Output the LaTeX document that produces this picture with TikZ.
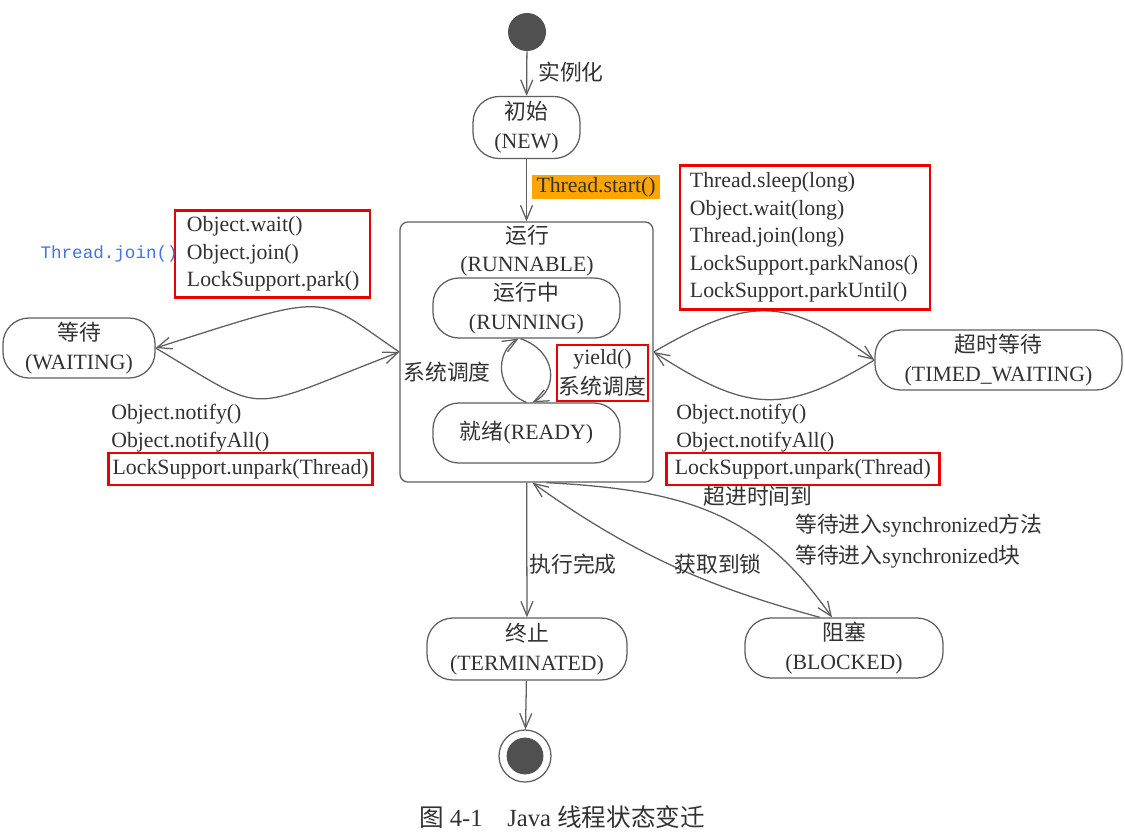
\documentclass[tikz,border=0pt]{standalone}
\usepackage{fontspec}
\setmainfont{Liberation Serif}
\newfontfamily\cjk{Noto Sans CJK SC}
\newfontfamily\codefont{Liberation Mono}
\usetikzlibrary{arrows.meta}
\definecolor{linegray}{RGB}{95,95,95}
\definecolor{textgray}{RGB}{50,50,50}
\definecolor{dotgray}{RGB}{80,80,80}
\definecolor{boxred}{RGB}{235,0,0}
\definecolor{startorange}{RGB}{255,165,0}
\definecolor{joinblue}{RGB}{70,115,225}
\tikzset{
  state/.style={draw=linegray, line width=0.9pt, rounded corners=0.65cm, align=center,
    text=textgray, minimum height=1.5cm, inner sep=0pt, font=\fontsize{15.5}{20.5}\selectfont},
  arr/.style={draw=linegray, line width=0.9pt, -{Straight Barb[length=3.6mm,width=3mm]}},
  redbox/.style={draw=boxred, line width=2pt, text=textgray, font=\fontsize{15.5}{19.5}\selectfont},
  lbl/.style={text=textgray, inner sep=0pt, yshift=-0.05cm, font=\fontsize{15.5}{20}\selectfont},
}
\begin{document}
\begin{tikzpicture}[x=0.025cm,y=-0.025cm]
    \useasboundingbox (0,0) rectangle (1125,831);
    \fill[white] (0,0) rectangle (1125,831);
    % states
    \node[circle, fill=dotgray, minimum size=0.95cm, inner sep=0pt] (start) at (527,32) {};
    \node[state, minimum width=2.675cm, minimum height=1.55cm] (new) at (526.5,127.5) {{\cjk 初始}\\(NEW)};
    \node[draw=linegray, line width=0.9pt, rounded corners=0.2cm, minimum width=6.325cm, minimum height=6.5cm] (runnable) at (526.5,352) {};
    \node[lbl, align=center] (runnabletitle) at (527,249) {{\cjk 运行}\\(RUNNABLE)};
    \node[state, minimum width=4.675cm] (running) at (526.5,308) {{\cjk 运行中}\\(RUNNING)};
    \node[state, minimum width=4.675cm] (ready) at (526.5,433) {{\cjk 就绪}(READY)};
    \node[state, minimum width=3.8cm] (waiting) at (79,348) {{\cjk 等待}\\(WAITING)};
    \node[state, minimum width=6.175cm] (timed) at (998.5,360) {{\cjk 超时等待}\\(TIMED\_WAITING)};
    \node[state, minimum width=5cm, minimum height=1.55cm] (terminated) at (527,649) {{\cjk 终止}\\(TERMINATED)};
    \node[state, minimum width=4.95cm] (blocked) at (844,648) {{\cjk 阻塞}\\(BLOCKED)};
    \node[circle, draw=linegray, line width=0.9pt, minimum size=1.3cm, inner sep=0pt] (finish) at (525,756) {};
    \fill[dotgray] (finish.center) circle (0.46cm);
    % transitions
    \draw[arr] (start) -- (new);
    \draw[arr] (new) -- (runnable);
    \draw[arr] (runnable) -- (terminated);
    \draw[arr] (terminated) -- (finish);
    \draw[arr] (runnable.west) .. controls (315,295) and (337,290) .. (waiting.east);
    \draw[arr] (waiting.east) .. controls (272,417) and (240,413) .. (runnable.west);
    \draw[arr] (runnable.east) .. controls (750,296) and (785,296) .. (timed.west);
    \draw[arr] (timed.west) .. controls (785,414) and (750,414) .. (runnable.east);
    \draw[arr] (ready.north) .. controls (495,390) and (495,352) .. ([xshift=-0.2cm]running.south);
    \draw[arr] ([xshift=-0.15cm]running.south) .. controls (558,352) and (558,390) .. ([xshift=0.15cm]ready.north);
    \draw[arr] ([xshift=0.5cm]runnable.south) .. controls (690,490) and (760,515) .. ([xshift=-0.3cm]blocked.north);
    \draw[arr] ([xshift=-0.6cm]blocked.north) .. controls (720,590) and (640,560) .. ([xshift=0.15cm]runnable.south);
    % labels
    \node[lbl, anchor=west] (instlbl) at (538,70) {\cjk 实例化};
    \node[lbl, anchor=west, fill=startorange, inner xsep=3pt, inner ysep=1.5pt, yshift=0.05cm] (startlbl) at (532,187) {Thread.start()};
    \node[lbl] (schedlbl) at (447,370) {\cjk 系统调度};
    \node[redbox, align=center, inner sep=1pt, minimum width=2.275cm, minimum height=1.4cm,
      font=\fontsize{15.5}{21}\selectfont] (yieldbox) at (602.5,373) {yield()\\{\cjk 系统调度}};
    \node[redbox, text width=4.275cm, align=left, inner xsep=0.3cm, minimum height=2.175cm] (waitbox)
      at (272.5,254) {Object.wait()\\Object.join()\\LockSupport.park()};
    \node[text=joinblue, anchor=east, inner sep=0pt, font=\codefont\fontsize{12.5}{14}\selectfont] (joinlbl)
      at (178,254) {Thread.join()};
    \node[redbox, text width=5.75cm, align=left, inner xsep=0.25cm, minimum height=3.6cm] (timedbox)
      at (805,237.5) {Thread.sleep(long)\\Object.wait(long)\\Thread.join(long)\\LockSupport.parkNanos()\\LockSupport.parkUntil()};
    \node[lbl, anchor=west] (lnotify) at (111,412) {Object.notify()};
    \node[lbl, anchor=west] (lnotifyall) at (111,440) {Object.notifyAll()};
    \node[redbox, anchor=west, inner xsep=3pt, inner ysep=3pt, minimum height=0.8cm] (lunpark) at (107,469) {LockSupport.unpark(Thread)};
    \node[lbl] (timeoutlbl) at (758,494) {\cjk 超进时间到};
    \node[lbl, anchor=west] (rnotify) at (676,412) {Object.notify()};
    \node[lbl, anchor=west] (rnotifyall) at (676,440) {Object.notifyAll()};
    \node[redbox, anchor=west, inner xsep=6pt, inner ysep=3pt, minimum height=0.8cm] (runpark) at (665,469) {LockSupport.unpark(Thread)};
    \node[lbl, anchor=west] (syncmethod) at (795,524) {{\cjk 等待进入}synchronized{\cjk 方法}};
    \node[lbl, anchor=west] (syncblock) at (795,555) {{\cjk 等待进入}synchronized{\cjk 块}};
    \node[lbl] (donelbl) at (573,562) {\cjk 执行完成};
    \node[lbl] (locklbl) at (718,562) {\cjk 获取到锁};
    \node[lbl, font=\fontsize{17.5}{20}\selectfont] (caption) at (562,815) {{\cjk 图} 4-1\quad Java {\cjk 线程状态变迁}};
\end{tikzpicture}
\end{document}
